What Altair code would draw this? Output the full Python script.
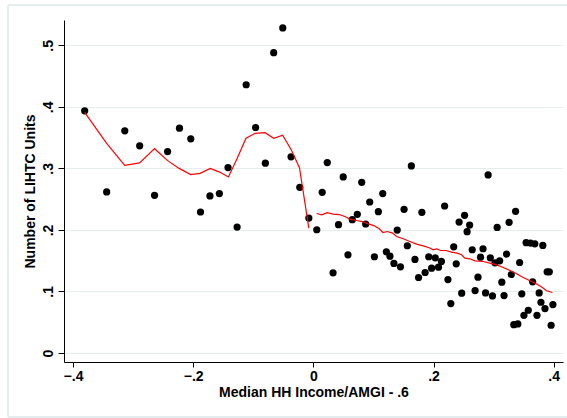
import altair as alt
import pandas as pd

# Binned scatter: mean LIHTC units per income bin
income_bin = [
    -0.3806, -0.3440, -0.3138, -0.2890, -0.2643, -0.2426, -0.2228, -0.2040, -0.1878, -0.1721,
    -0.1564, -0.1420, -0.1269, -0.1118, -0.0961, -0.0799, -0.0660, -0.0509, -0.0371, -0.0226,
    -0.0075, 0.0057, 0.0147, 0.0232, 0.0328, 0.0419, 0.0497, 0.0576, 0.0648, 0.0732,
    0.0805, 0.0871, 0.0938, 0.1016, 0.1082, 0.1155, 0.1215, 0.1275, 0.1341, 0.1396,
    0.1450, 0.1510, 0.1564, 0.1631, 0.1691, 0.1751, 0.1806, 0.1860, 0.1920, 0.1968,
    0.2029, 0.2083, 0.2131, 0.2185, 0.2240, 0.2288, 0.2336, 0.2378, 0.2426, 0.2469,
    0.2517, 0.2559, 0.2601, 0.2644, 0.2692, 0.2740, 0.2782, 0.2824, 0.2866, 0.2909,
    0.2945, 0.2981, 0.3023, 0.3059, 0.3101, 0.3137, 0.3174, 0.3216, 0.3258, 0.3294,
    0.3336, 0.3366, 0.3403, 0.3433, 0.3469, 0.3505, 0.3541, 0.3577, 0.3614, 0.3650,
    0.3686, 0.3722, 0.3758, 0.3788, 0.3819, 0.3855, 0.3891, 0.3927, 0.3957, 0.3987,
]
lihtc_units = [
    0.3936, 0.2617, 0.3610, 0.3366, 0.2562, 0.3274, 0.3654, 0.3480, 0.2291, 0.2552,
    0.2590, 0.3013, 0.2047, 0.4359, 0.3664, 0.3084, 0.4880, 0.5282, 0.3187, 0.2693,
    0.2193, 0.2003, 0.2611, 0.3094, 0.1303, 0.2085, 0.2861, 0.1596, 0.2166, 0.2253,
    0.2774, 0.2096, 0.2454, 0.1564, 0.2296, 0.2590, 0.1645, 0.1574, 0.1455, 0.1998,
    0.1401, 0.2334, 0.1743, 0.3040, 0.1520, 0.1227, 0.2286, 0.1308, 0.1564, 0.1379,
    0.1547, 0.1395, 0.1488, 0.2389, 0.1194, 0.0803, 0.1726, 0.1450, 0.2128, 0.0972,
    0.2237, 0.1971, 0.2079, 0.1678, 0.1015, 0.1232, 0.1558, 0.1694, 0.0977, 0.2894,
    0.1547, 0.0928, 0.1466, 0.2041, 0.1498, 0.1151, 0.0934, 0.1607, 0.2123, 0.1276,
    0.0461, 0.2302, 0.0472, 0.1471, 0.0961, 0.0613, 0.1792, 0.0695, 0.1786, 0.1156,
    0.1775, 0.0613, 0.0977, 0.0825, 0.1748, 0.0722, 0.1319, 0.1319, 0.0451, 0.0787,
]

# Local fit below the 60% AMGI cutoff
fit_left_x = [
    -0.3806, -0.3443, -0.3140, -0.2892, -0.2643, -0.2430, -0.2234, -0.2042, -0.1884, -0.1715,
    -0.1560, -0.1413, -0.1269, -0.1121, -0.0968, -0.0804, -0.0659, -0.0511, -0.0373, -0.0231,
    -0.0075,
]
fit_left_y = [
    0.391, 0.341, 0.305, 0.309, 0.332, 0.313, 0.300, 0.290, 0.292, 0.300,
    0.294, 0.286, 0.316, 0.349, 0.357, 0.358, 0.349, 0.354, 0.331, 0.301,
    0.203,
]

# Local fit above the cutoff
fit_right_x = [
    0.0055, 0.0140, 0.0230, 0.0330, 0.0430, 0.0525, 0.0610, 0.0720, 0.0820, 0.0910,
    0.1007, 0.1096, 0.1160, 0.1230, 0.1320, 0.1385, 0.1496, 0.1607, 0.1718, 0.1829,
    0.1929, 0.1996, 0.2051, 0.2118, 0.2207, 0.2301, 0.2395, 0.2467, 0.2523, 0.2606,
    0.2690, 0.2828, 0.2939, 0.3051, 0.3161, 0.3272, 0.3384, 0.3494, 0.3605, 0.3717,
    0.3800, 0.3883, 0.3980,
]
fit_right_y = [
    0.2267, 0.2245, 0.2280, 0.2256, 0.2250, 0.2218, 0.2175, 0.2153, 0.2136, 0.2099,
    0.2071, 0.2018, 0.1958, 0.1974, 0.1948, 0.1893, 0.1856, 0.1812, 0.1770, 0.1742,
    0.1710, 0.1677, 0.1693, 0.1666, 0.1666, 0.1640, 0.1623, 0.1596, 0.1542, 0.1531,
    0.1498, 0.1487, 0.1461, 0.1433, 0.1390, 0.1341, 0.1287, 0.1227, 0.1174, 0.1120,
    0.1071, 0.1011, 0.0984,
]

x_ticks = [-0.4, -0.2, 0.0, 0.2, 0.4]
y_ticks = [0.0, 0.1, 0.2, 0.3, 0.4, 0.5]

FONT = "Liberation Sans"
# Stata-style labels: drop the leading zero (".2", "-.4")
stata_fmt = "datum.value == 0 ? '0' : replace(format(datum.value, '.1f'), '0.', '.')"

scatter_df = pd.DataFrame({"x": income_bin, "y": lihtc_units})
fit_df = pd.concat([
    pd.DataFrame({"x": fit_left_x, "y": fit_left_y, "side": "below"}),
    pd.DataFrame({"x": fit_right_x, "y": fit_right_y, "side": "above"}),
], ignore_index=True)

x_scale = alt.Scale(domain=[-0.415, 0.4155], nice=False, zero=False)
y_scale = alt.Scale(domain=[-0.0146, 0.5411], nice=False, zero=False)

x_axis = alt.Axis(
    values=x_ticks, labelExpr=stata_fmt, grid=False,
    title="Median HH Income/AMGI - .6",
    titleY=30, titleBaseline="middle",
    tickSize=5, labelPadding=2,
)
y_axis = alt.Axis(
    values=y_ticks, labelExpr=stata_fmt, grid=True,
    title="Number of LIHTC Units",
    titleX=-34, titleBaseline="middle",
    labelAngle=-90, labelAlign="center", labelBaseline="bottom",
    tickSize=6, labelPadding=3,
)

points = alt.Chart(scatter_df).mark_circle(size=52, color="black", opacity=1).encode(
    x=alt.X("x:Q", scale=x_scale, axis=x_axis),
    y=alt.Y("y:Q", scale=y_scale, axis=y_axis),
)

fits = alt.Chart(fit_df).mark_line(color="#ff0000", strokeWidth=1.2).encode(
    x=alt.X("x:Q", scale=x_scale),
    y=alt.Y("y:Q", scale=y_scale),
    detail="side:N",
    order="x:Q",
)

# Faint outline of the outer graph region
frame_color = "#e4ecee"
frame_left = alt.Chart(scatter_df).mark_rule(color=frame_color, strokeWidth=1, clip=False).encode(
    x=alt.value(-56), y=alt.value(-15), y2=alt.value(397)
)
frame_top = alt.Chart(scatter_df).mark_rule(color=frame_color, strokeWidth=1, clip=False).encode(
    x=alt.value(-56), x2=alt.value(510), y=alt.value(-15)
)
frame_bottom = alt.Chart(scatter_df).mark_rule(color=frame_color, strokeWidth=1, clip=False).encode(
    x=alt.value(-56), x2=alt.value(510), y=alt.value(397)
)

chart = (
    alt.layer(frame_left, frame_top, frame_bottom, points, fits)
    .properties(
        width=499, height=342,
        autosize=alt.AutoSizeParams(type="none"),
        padding={"left": 64, "top": 20, "right": 4, "bottom": 56},
        background="white",
    )
    .configure_view(stroke=None)
    .configure_axis(
        labelFont=FONT, titleFont=FONT,
        labelFontSize=14, titleFontSize=14,
        labelColor="black", titleColor="black",
        labelFontWeight="bold", titleFontWeight="bold",
        domainColor="black", domainWidth=1,
        tickColor="black", tickWidth=1,
        gridColor="#e6eef0", gridWidth=1,
    )
)

chart.save("out.html", embed_options={"renderer": "svg", "actions": False})
